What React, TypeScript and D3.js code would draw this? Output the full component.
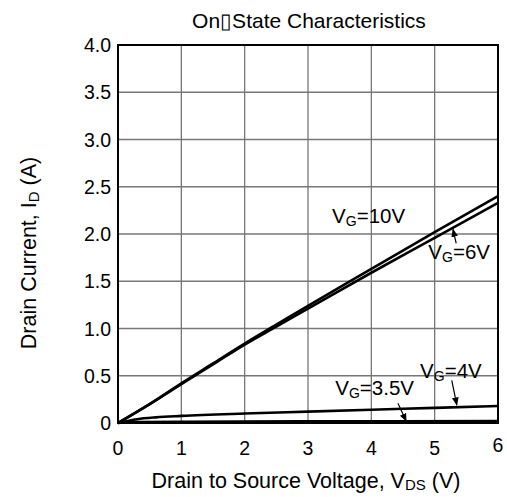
import React from 'react';
import * as d3 from 'd3';

// curve data
const vds = [0, 0.5, 1, 1.5, 2, 2.5, 3, 4, 5, 6];
const id10 = [0, 0.2, 0.42, 0.63, 0.84, 1.04, 1.24, 1.63, 2.02, 2.4];
const id6 = [0, 0.2, 0.41, 0.62, 0.83, 1.02, 1.21, 1.59, 1.96, 2.33];
const vds4 = [0, 0.3, 0.6, 1, 2, 3, 4, 5, 6];
const id4 = [0, 0.04, 0.06, 0.075, 0.1, 0.12, 0.14, 0.16, 0.18];
const vds35 = [0, 0.3, 1, 3, 6];
const id35 = [0, 0.01, 0.014, 0.017, 0.02];

const xTicks = [0, 1, 2, 3, 4, 5, 6];
const yTicks = [0, 0.5, 1, 1.5, 2, 2.5, 3, 3.5, 4];
const yTickLabels = ['0', '0.5', '1.0', '1.5', '2.0', '2.5', '3.0', '3.5', '4.0'];

// label text positions (data units) and arrows [from, to]
const labels = [
  { vg: '10V', x: 3.38, y: 2.12, arrow: null },
  { vg: '6V', x: 4.9, y: 1.74, arrow: [[5.34, 1.9], [5.29, 2.05]] },
  { vg: '4V', x: 4.77, y: 0.48, arrow: [[5.27, 0.45], [5.35, 0.19]] },
  { vg: '3.5V', x: 3.43, y: 0.3, arrow: [[4.42, 0.21], [4.55, 0.02]] },
];

const W = 507;
const H = 497;
const left = 118;
const right = 498;
const top = 45;
const bottom = 423;
const font = 'Arial, "Liberation Sans", sans-serif';

export default function App() {
  const x = d3.scaleLinear().domain([0, 6]).range([left, right]);
  const y = d3.scaleLinear().domain([0, 4]).range([bottom, top]);

  const line = d3
    .line<[number, number]>()
    .x((d) => x(d[0]))
    .y((d) => y(d[1]))
    .curve(d3.curveMonotoneX);

  const series = [
    vds.map((v, i) => [v, id10[i]] as [number, number]),
    vds.map((v, i) => [v, id6[i]] as [number, number]),
    vds4.map((v, i) => [v, id4[i]] as [number, number]),
    vds35.map((v, i) => [v, id35[i]] as [number, number]),
  ];

  return (
    <svg
      width={W}
      height={H}
      style={{ position: 'absolute', left: 0, top: 0, background: '#fff' }}
      fontFamily={font}
    >
      <defs>
        <marker id="ah" viewBox="0 0 10 10" refX="9" refY="5" markerWidth="7" markerHeight="7" orient="auto">
          <path d="M0,1 L10,5 L0,9 z" fill="#000" />
        </marker>
      </defs>
      <rect width={W} height={H} fill="#fff" />

      {/* grid */}
      {xTicks.slice(1, -1).map((t) => (
        <line key={'gx' + t} x1={x(t)} x2={x(t)} y1={top} y2={bottom} stroke="#777" strokeWidth={1.3} />
      ))}
      {yTicks.slice(1, -1).map((t) => (
        <line key={'gy' + t} x1={left} x2={right} y1={y(t)} y2={y(t)} stroke="#777" strokeWidth={1.3} />
      ))}
      <rect x={left} y={top} width={right - left} height={bottom - top} fill="none" stroke="#000" strokeWidth={2} />

      {/* curves */}
      {series.map((s, i) => (
        <path key={i} d={line(s) || ''} fill="none" stroke="#000" strokeWidth={2.6} />
      ))}

      {/* tick labels */}
      {yTicks.map((t, i) => (
        <text key={'yt' + t} x={left - 7} y={y(t) + 7} textAnchor="end" fontSize={19.5}>
          {yTickLabels[i]}
        </text>
      ))}
      {xTicks.map((t) => (
        <text key={'xt' + t} x={x(t)} y={t === 6 ? bottom + 29 : bottom + 32} textAnchor="middle" fontSize={19.5}>
          {t}
        </text>
      ))}

      {/* annotations */}
      {labels.map((l) => (
        <g key={l.vg}>
          <text x={x(l.x)} y={y(l.y)} fontSize={20.5}>
            V<tspan fontSize={14} dy={3}>G</tspan>
            <tspan dy={-3}>={l.vg}</tspan>
          </text>
          {l.arrow && (
            <line
              x1={x(l.arrow[0][0])}
              y1={y(l.arrow[0][1])}
              x2={x(l.arrow[1][0])}
              y2={y(l.arrow[1][1])}
              stroke="#000"
              strokeWidth={1.2}
              markerEnd="url(#ah)"
            />
          )}
        </g>
      ))}

      {/* titles */}
      <text x={309} y={28} textAnchor="middle" fontSize={21}>
        On▯State Characteristics
      </text>
      <text x={306} y={488} textAnchor="middle" fontSize={21.5}>
        Drain to Source Voltage, V<tspan fontSize={15} dy={2}>DS</tspan>
        <tspan dy={-2}> (V)</tspan>
      </text>
      <text transform={`translate(36, 253) rotate(-90)`} textAnchor="middle" fontSize={21.5}>
        Drain Current, I<tspan fontSize={15} dy={3}>D</tspan>
        <tspan dy={-3}> (A)</tspan>
      </text>
    </svg>
  );
}
